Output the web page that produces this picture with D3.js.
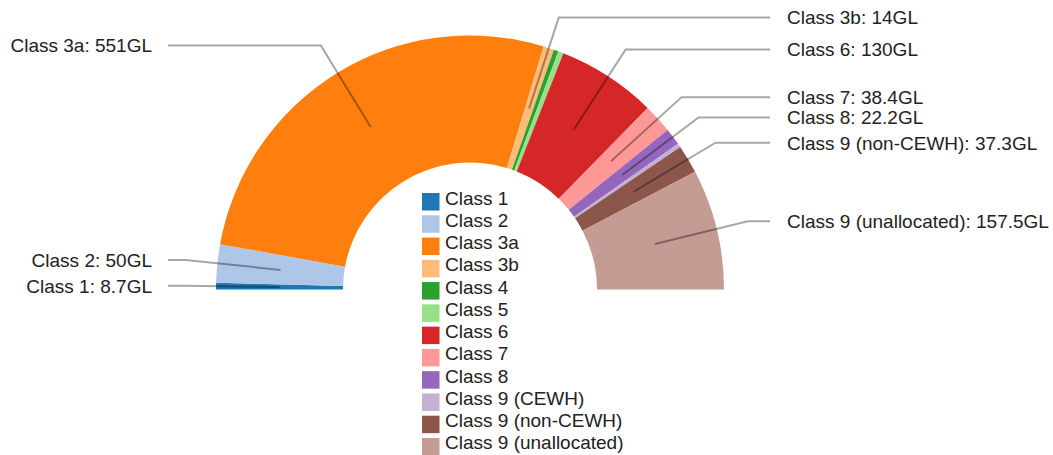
<!DOCTYPE html>
<html>
<head>
<meta charset="utf-8">
<script src="https://cdn.jsdelivr.net/npm/d3@7"></script>
<style>
  body { margin: 0; background: #fff; }
  svg text { font-family: "Liberation Sans", Arial, sans-serif; fill: #222; }
</style>
</head>
<body>
<div id="chart"></div>
<script>
// water entitlements by class (GL)
var classes = ["Class 1", "Class 2", "Class 3a", "Class 3b", "Class 4", "Class 5",
  "Class 6", "Class 7", "Class 8", "Class 9 (CEWH)", "Class 9 (non-CEWH)", "Class 9 (unallocated)"];
var volumes = [8.7, 50, 551, 14, 6, 7, 130, 38.4, 22.2, 5, 37.3, 157.5];
var colours = ["#1f77b4", "#aec7e8", "#ff7f0e", "#ffbb78", "#2ca02c", "#98df8a",
  "#d62728", "#ff9896", "#9467bd", "#c5b0d5", "#8c564b", "#c49c94"];
var minLabel = 8; // smaller slices get no callout

var width = 1053, height = 455;
var cx = 470, cy = 289.5,
  outerR = 254, innerR = 127,
  labelR = 286;

var svg = d3.select("#chart")
  .append("svg")
  .attr("width", width)
  .attr("height", height);

var data = classes.map(function (c, i) { return { name: c, value: volumes[i], colour: colours[i] }; });

var pie = d3.pie()
  .sort(null)
  .value(function (d) { return d.value; })
  .startAngle(-Math.PI / 2)
  .endAngle(Math.PI / 2);

var arc = d3.arc().innerRadius(innerR).outerRadius(outerR);
var midArc = d3.arc().innerRadius((innerR + outerR) / 2).outerRadius((innerR + outerR) / 2);
var outArc = d3.arc().innerRadius(labelR).outerRadius(labelR);

var g = svg.append("g")
  .attr("transform", "translate(" + cx + "," + cy + ")");

var arcs = pie(data);

g.selectAll("path.slice")
  .data(arcs)
  .enter()
  .append("path")
  .attr("class", "slice")
  .attr("d", arc)
  .style("fill", function (d) { return d.data.colour; });

// callouts
var labelled = arcs.filter(function (d) { return d.data.value > minLabel; });

function midAngle(d) { return (d.startAngle + d.endAngle) / 2; }

g.selectAll("polyline")
  .data(labelled)
  .enter()
  .append("polyline")
  .attr("points", function (d) {
    var a = midArc.centroid(d), b = outArc.centroid(d);
    var endX = midAngle(d) < 0 ? 168 - cx : 770 - cx;
    return [a, b, [endX, b[1]]].map(function (p) { return p.join(","); }).join(" ");
  })
  .style("fill", "none")
  .style("stroke", "#000")
  .style("stroke-opacity", 0.35)
  .style("stroke-width", 2);

g.selectAll("text.label")
  .data(labelled)
  .enter()
  .append("text")
  .attr("class", "label")
  .attr("x", function (d) { return midAngle(d) < 0 ? 152 - cx : 787 - cx; })
  .attr("y", function (d) { return outArc.centroid(d)[1]; })
  .attr("dy", "0.36em")
  .style("font-size", "19px")
  .style("text-anchor", function (d) { return midAngle(d) < 0 ? "end" : "start"; })
  .text(function (d) { return d.data.name + ": " + d.data.value + "GL"; });

// legend in the hole
var legend = svg.append("g")
  .attr("transform", "translate(422,193)");

var row = legend.selectAll("g")
  .data(data)
  .enter()
  .append("g")
  .attr("transform", function (d, i) { return "translate(0," + (i * 22.27) + ")"; });

row.append("rect")
  .attr("width", 17.5)
  .attr("height", 17.5)
  .style("fill", function (d) { return d.colour; });

row.append("text")
  .attr("x", 23)
  .attr("y", 11.5)
  .style("font-size", "19px")
  .text(function (d) { return d.name; });
</script>
</body>
</html>
